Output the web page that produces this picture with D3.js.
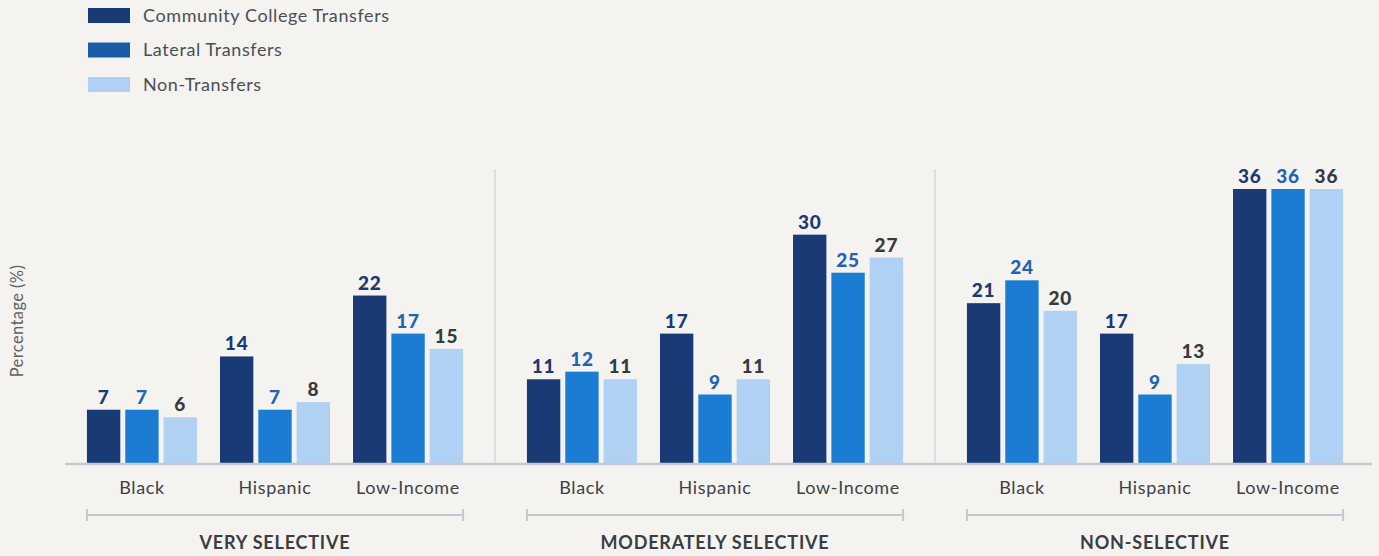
<!DOCTYPE html>
<html>
<head>
<meta charset="utf-8">
<script src="https://cdn.jsdelivr.net/npm/d3@7"></script>
<style>
  html, body { margin: 0; padding: 0; background: #f4f3f0; }
  svg { display: block; font-family: Lato, "Open Sans", sans-serif; }
</style>
</head>
<body>
<svg id="chart" width="1379" height="556"></svg>
<script>
// Selectivity tiers, student groups and transfer types
const panels = ["VERY SELECTIVE", "MODERATELY SELECTIVE", "NON-SELECTIVE"];
const categories = ["Black", "Hispanic", "Low-Income"];
const seriesNames = ["Community College Transfers", "Lateral Transfers", "Non-Transfers"];

// Percentages, one array per series, ordered panel by panel then category
const communityCollege = [7, 14, 22, 11, 17, 30, 21, 17, 36];
const lateral          = [7, 7, 17, 12, 9, 25, 24, 9, 36];
const nonTransfer      = [6, 8, 15, 11, 11, 27, 20, 13, 36];
const seriesValues = [communityCollege, lateral, nonTransfer];

const barColors   = ["#1a3a75", "#1a7dd3", "#b0d1f3"];
const swatchColors = ["#1a3a75", "#1b5ca7", "#b0d1f3"];
const labelColors = ["#1b3a73", "#1f64b4", "#363b41"];

const svg = d3.select("#chart");
const baseY = 463;

const x0 = d3.scaleBand().domain(panels).range([55, 1375]).padding(0);
const x1 = d3.scaleBand().domain(categories).range([0, x0.bandwidth()])
  .paddingInner(0.173).paddingOuter(0.24);
const x2 = d3.scaleBand().domain(seriesNames).range([0, x1.bandwidth()])
  .paddingInner(0.13).paddingOuter(0);
const y = d3.scaleLinear().domain([0, 36]).range([baseY, 189]);

// Legend
const legend = svg.append("g").attr("transform", "translate(88,8)");
seriesNames.forEach((name, i) => {
  const g = legend.append("g").attr("transform", `translate(0,${i * 34.5})`);
  g.append("rect").attr("width", 42).attr("height", 15).attr("fill", swatchColors[i]);
  g.append("text").attr("x", 55).attr("y", 13.5).attr("font-size", 18)
    .attr("letter-spacing", 0.6)
    .attr("fill", "#4a4f55").text(name);
});

// Y axis title
svg.append("text")
  .attr("transform", "translate(23,321) rotate(-90)")
  .attr("text-anchor", "middle")
  .attr("font-size", 16.5).attr("letter-spacing", 0.4).attr("fill", "#5d6167")
  .text("Percentage (%)");

// Separators between panels
svg.selectAll("line.sep").data(panels.slice(1)).join("line")
  .attr("class", "sep")
  .attr("x1", d => x0(d)).attr("x2", d => x0(d))
  .attr("y1", 169).attr("y2", baseY)
  .attr("stroke", "#c6cbcf").attr("stroke-width", 1);

// Bars and value labels
const rows = [];
panels.forEach((p, pi) => categories.forEach((c, ci) => seriesNames.forEach((s, si) => {
  rows.push({ panel: p, cat: c, series: s, si, value: seriesValues[si][pi * categories.length + ci] });
})));
const xPos = d => x0(d.panel) + x1(d.cat) + x2(d.series);

svg.append("g").selectAll("rect").data(rows).join("rect")
  .attr("x", xPos).attr("width", x2.bandwidth())
  .attr("y", d => y(d.value)).attr("height", d => baseY - y(d.value))
  .attr("fill", d => barColors[d.si]);

svg.append("g").selectAll("text").data(rows).join("text")
  .attr("x", d => xPos(d) + x2.bandwidth() / 2)
  .attr("y", d => y(d.value) - 6)
  .attr("text-anchor", "middle")
  .attr("font-size", 19).attr("font-weight", 900).attr("letter-spacing", 0.8)
  .attr("fill", d => labelColors[d.si])
  .text(d => d.value);

// Baseline
svg.append("line")
  .attr("x1", 65).attr("x2", 1372).attr("y1", baseY + 1).attr("y2", baseY + 1)
  .attr("stroke", "#c3cbd2").attr("stroke-width", 2.5);

// Category labels, brackets and panel titles
panels.forEach(p => {
  const g = svg.append("g").attr("transform", `translate(${x0(p)},0)`);
  g.selectAll("text.cat").data(categories).join("text")
    .attr("class", "cat")
    .attr("x", c => x1(c) + x1.bandwidth() / 2).attr("y", 493.5)
    .attr("text-anchor", "middle").attr("font-size", 18).attr("letter-spacing", 0.65)
    .attr("fill", "#3d4248").text(c => c);

  const bx0 = x1(categories[0]);
  const bx1 = x1(categories[categories.length - 1]) + x1.bandwidth();
  g.append("line").attr("x1", bx0).attr("x2", bx1).attr("y1", 515).attr("y2", 515)
    .attr("stroke", "#c2cad1").attr("stroke-width", 2);
  [bx0, bx1].forEach(xx => g.append("line")
    .attr("x1", xx).attr("x2", xx).attr("y1", 509).attr("y2", 521)
    .attr("stroke", "#c2cad1").attr("stroke-width", 2));

  g.append("text").attr("x", (bx0 + bx1) / 2).attr("y", 548.5)
    .attr("text-anchor", "middle").attr("font-size", 18).attr("font-weight", 700)
    .attr("letter-spacing", 0.8)
    .attr("fill", "#3a3d42").text(p);
});
</script>
</body>
</html>
